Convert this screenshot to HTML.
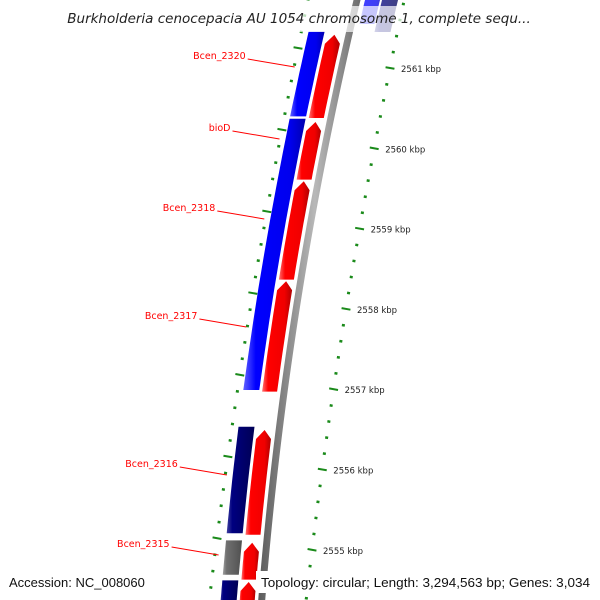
<!DOCTYPE html>
<html><head><meta charset="utf-8"><style>
html,body{margin:0;padding:0;background:#fff;}
svg{display:block;font-family:"DejaVu Sans","Liberation Sans",sans-serif;}
</style></head><body>
<svg id="map" width="600" height="600" viewBox="0 0 600 600" xmlns="http://www.w3.org/2000/svg">
<defs>
<linearGradient id="gBlue" x1="0" x2="1" y1="0" y2="0"><stop offset="0" stop-color="#6060ff"/><stop offset="0.2" stop-color="#0000ff"/><stop offset="0.75" stop-color="#0000ee"/><stop offset="1" stop-color="#0000b0"/></linearGradient>
<linearGradient id="gRed" x1="0" x2="1" y1="0" y2="0"><stop offset="0" stop-color="#ff7070"/><stop offset="0.2" stop-color="#ff0000"/><stop offset="0.75" stop-color="#f00000"/><stop offset="1" stop-color="#b00000"/></linearGradient>
<linearGradient id="gNavy" x1="0" x2="1" y1="0" y2="0"><stop offset="0" stop-color="#4040a0"/><stop offset="0.2" stop-color="#000080"/><stop offset="1" stop-color="#000055"/></linearGradient>
<linearGradient id="gGray" x1="0" x2="1" y1="0" y2="0"><stop offset="0" stop-color="#a0a0a0"/><stop offset="0.2" stop-color="#707070"/><stop offset="1" stop-color="#505050"/></linearGradient>
<linearGradient id="gBack" x1="0" x2="1" y1="0" y2="0"><stop offset="0" stop-color="#5a5a5a"/><stop offset="0.55" stop-color="#b8b8b8"/><stop offset="1" stop-color="#6a6a6a"/></linearGradient>
</defs>
<g id="backbone"></g>
<g id="features"></g>
<g id="ticks"></g>
<g id="labels"></g>
<rect x="62" y="6" width="476" height="26" fill="#fff" opacity="0.7"/>
<text x="299" y="23" text-anchor="middle" font-size="13.5" font-style="italic" fill="#222">Burkholderia cenocepacia AU 1054 chromosome 1, complete sequ...</text>
<rect x="256" y="571" width="340" height="22" fill="#fff"/>
<text x="9" y="587" font-size="13" font-family="Liberation Sans, sans-serif" fill="#111">Accession: NC_008060</text>
<text x="261" y="587" font-size="13" font-family="Liberation Sans, sans-serif" textLength="329" lengthAdjust="spacingAndGlyphs" fill="#111">Topology: circular; Length: 3,294,563 bp; Genes: 3,034</text>
</svg>
<script>
// Data (kbp positions)
const tickKbp = [2555, 2556, 2557, 2558, 2559, 2560, 2561];
const tickLabels = ["2555 kbp","2556 kbp","2557 kbp","2558 kbp","2559 kbp","2560 kbp","2561 kbp"];
const forwardStarts = [2560.40, 2559.63, 2558.38, 2556.98, 2555.19, 2554.63, 2554.20];
const forwardEnds   = [2561.44, 2560.35, 2559.61, 2558.36, 2556.50, 2555.09, 2554.60];
const reverseStarts = [2560.42, 2557.00, 2555.21, 2554.69, 2554.20];
const reverseEnds   = [2561.48, 2560.39, 2556.54, 2555.12, 2554.62];
const reverseKinds  = ["blue", "blue", "navy", "gray", "navy"];
const geneNames = ["Bcen_2320", "bioD", "Bcen_2318", "Bcen_2317", "Bcen_2316", "Bcen_2315"];
const geneKbp   = [2561.0, 2560.1, 2559.1, 2557.75, 2555.9, 2554.9];

const NS = "http://www.w3.org/2000/svg";
function mk(tag, attrs, parent){const e=document.createElementNS(NS,tag);for(const k in attrs)e.setAttribute(k,attrs[k]);parent.appendChild(e);return e;}
function cB(y){return 357-0.2374*y+0.000131*y*y;}
function xR(y){const d=y-68;return 390-0.2033*d+0.0000861*d*d;}
function xL(y){const d=y-48;return 298-0.2034*d+0.0000777*d*d;}
function yF(k){return 70+(2561-k)*80;}
function yR(k){return 68+(2561-k)*80.3;}
function yL(k){return 48+(2561-k)*81.7;}

const back=document.getElementById('backbone');
(function(){let pts=[];for(let y=-5;y<=605;y+=10)pts.push([cB(y)-3.5,y]);for(let y=605;y>=-5;y-=10)pts.push([cB(y)+3.5,y]);
const p=mk('polygon',{points:pts.map(p=>p.join(',')).join(' '),fill:'url(#gBack)'},back);
})();

const feat=document.getElementById('features');
function band(y1,y2,o1,o2,fill,arrow,name){
  const pts=[];const n=8;const tip=arrow?9:0;
  const yt=Math.max(y1,-20);const ys=yt+tip;
  if(arrow){pts.push([cB(yt)+(o1+o2)/2,yt]);}
  for(let i=0;i<=n;i++){const y=ys+(y2-ys)*i/n;pts.push([cB(y)+o2,y]);}
  for(let i=n;i>=0;i--){const y=ys+(y2-ys)*i/n;pts.push([cB(y)+o1,y]);}
  const p=mk('polygon',{points:pts.map(p=>p[0].toFixed(1)+','+p[1].toFixed(1)).join(' '),fill:fill},feat);
  
}
for(let i=0;i<forwardStarts.length;i++){
  band(yF(forwardEnds[i]),Math.min(yF(forwardStarts[i]),640),-22,-7,'url(#gRed)',true,'forward-gene-'+i);
}
const fillMap={blue:'url(#gBlue)',navy:'url(#gNavy)',gray:'url(#gGray)'};
for(let i=0;i<reverseStarts.length;i++){
  band(yF(reverseEnds[i]),Math.min(yF(reverseStarts[i]),640),-41,-25,fillMap[reverseKinds[i]],false,'reverse-gene-'+i);
}
band(-10,24,8,23,'url(#gBlue)',false,'top-gene-blue');
band(-10,32,25,41,'url(#gNavy)',false,'top-gene-navy');
[...feat.children].slice(-2).forEach(e=>e.setAttribute('opacity','0.75'));

const tg=document.getElementById('ticks');
function tickMark(x,y,major,name){
  const w=major?9:3,h=major?2:2.5;
  const r=mk('rect',{x:(x-w/2).toFixed(1),y:(y-1).toFixed(1),width:w,height:h,fill:'#1a8a1a',transform:`rotate(10 ${x.toFixed(1)} ${y.toFixed(1)})`},tg);
  
}
for(let k=2561.8;k>=2554.0;k-=0.2){
  const kk=Math.round(k*10)/10;const major=Math.abs(kk-Math.round(kk))<0.01;
  const y1=yR(kk);if(y1>-5&&y1<605)tickMark(xR(y1),y1,major,major?'outer-major-tick':'outer-minor-tick');
  const y2=yL(kk);if(y2>-5&&y2<605)tickMark(xL(y2),y2,major,major?'inner-major-tick':'inner-minor-tick');
}
for(let i=0;i<tickKbp.length;i++){
  const y=yR(tickKbp[i]);
  const t=mk('text',{x:(xR(y)+11).toFixed(1),y:(y+4).toFixed(1),'font-size':'8.5',fill:'#222'},tg);
  t.textContent=tickLabels[i];
  
}

const lg=document.getElementById('labels');
for(let i=0;i<geneNames.length;i++){
  const y=yF(geneKbp[i])-3;const x2=cB(y)-47;const x1=x2-47;const ty=y-12;
  const l=mk('line',{x1:x1.toFixed(1),y1:(ty+4).toFixed(1),x2:x2.toFixed(1),y2:y.toFixed(1),stroke:'#ff0000','stroke-width':'1'},lg);
  
  const t=mk('text',{x:(x1-2).toFixed(1),y:(ty+4).toFixed(1),'text-anchor':'end','font-size':'9.5',fill:'#ff0000'},lg);
  t.textContent=geneNames[i];
  
}
</script>
</body></html>
